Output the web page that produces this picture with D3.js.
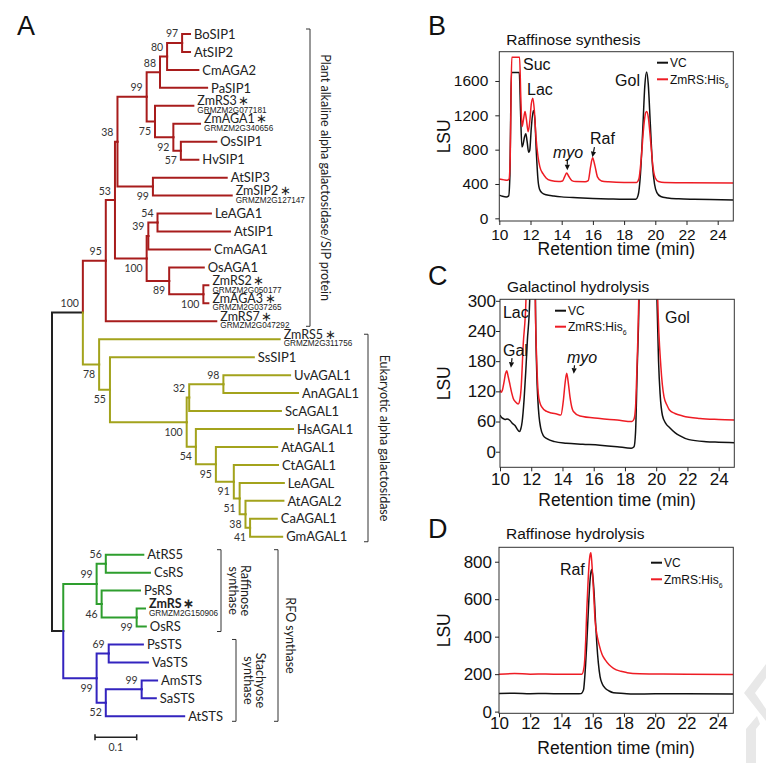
<!DOCTYPE html>
<html>
<head>
<meta charset="utf-8">
<script src="https://cdn.jsdelivr.net/npm/d3@7"></script>
<style>
body { margin: 0; background: #fff; }
svg { display: block; }
</style>
</head>
<body>
<script>
// ---- A: neighbour-joining tree, branch lengths (subst./site) and bootstrap values
const redClade = "(((((((BoSIP1:0.019,AtSIP2:0.019)97:0.036,CmAGA2:0.075)80:0.017,PaSIP1:0.113)88:0.032,(ZmRS3:0.092,(ZmAGA1:0.064,(OsSIP1:0.085,HvSIP1:0.042)57:0.018)92:0.044)75:0.020)99:0.070,(AtSIP3:0.177,ZmSIP2:0.189)99:0.085)38:0.006,(((LeAGA1:0.128,AtSIP1:0.174)54:0.022,CmAGA1:0.148)39:0.004,(OsAGA1:0.083,(ZmRS2:0.012,ZmAGA3:0.012)100:0.082)89:0.054)100:0.076)53:0.022,ZmRS7:0.265)95:0.055";
const oliveClade = "(ZmRS5:0.433,(SsSIP1:0.345,(((UvAGAL1:0.160,AnAGAL1:0.179)98:0.082,ScAGAL1:0.220)32:0.006,(HsAGAL1:0.233,(AtAGAL1:0.147,(CtAGAL1:0.106,(LeAGAL:0.106,(AtAGAL2:0.091,(CaAGAL1:0.064,GmAGAL1:0.077)41:0.011)38:0.014)51:0.014)91:0.043)95:0.048)54:0.022)100:0.184)55:0.026)78:0.039";
const greenClade = "((AtRS5:0.090,CsRS:0.106)56:0.022,(PsRS:0.092,(ZmRS:0.020,OsRS:0.022)99:0.084)46:0.012)99:0.080";
const blueClade = "((PsSTS:0.082,VaSTS:0.094)69:0.029,((AmSTS:0.037,SaSTS:0.034)99:0.086,AtSTS:0.188)52:0.022)99:0.080";
const cladeColors = ["#a81c1c", "#a3a31c", "#2e9e2e", "#3324bf"];

const geneIds = {
    ZmRS3: "GRMZM2G077181", ZmAGA1: "GRMZM2G340656", ZmSIP2: "GRMZM2G127147",
    ZmRS2: "GRMZM2G050177", ZmAGA3: "GRMZM2G037265", ZmRS7: "GRMZM2G047292",
    ZmRS5: "GRMZM2G311756", ZmRS: "GRMZM2G150906"
};

const groups = [
    {lines: ["Plant alkaline alpha galactosidase/SIP protein"], from: "BoSIP1", to: "ZmRS7"},
    {lines: ["Eukaryotic alpha galactosidase"], from: "ZmRS5", to: "GmAGAL1"},
    {lines: ["Raffinose", "synthase"], from: "AtRS5", to: "OsRS"},
    {lines: ["Stachyose", "synthase"], from: "PsSTS", to: "AtSTS"},
    {lines: ["RFO synthase"], from: "AtRS5", to: "AtSTS"}
];

// ---- B-D: chromatograms [retention time (min), LSU]
const bVC = [[10.0,270],[10.2,258],[10.45,250],[10.6,262],[10.68,500],[10.73,1200],[10.78,1700],[11.28,1700],[11.36,1250],[11.45,830],[11.52,860],[11.62,950],[11.7,985],[11.78,900],[11.88,770],[11.95,790],[12.05,1050],[12.18,1255],[12.28,1150],[12.38,750],[12.48,450],[12.58,340],[12.75,295],[13.0,275],[13.5,260],[14,250],[15,240],[16,232],[17,226],[18,221],[18.75,222],[18.9,270],[19.05,520],[19.2,1050],[19.33,1550],[19.44,1705],[19.55,1560],[19.68,1100],[19.82,620],[19.95,400],[20.1,300],[20.35,255],[20.8,238],[21.5,228],[22.5,222],[23.5,218],[25,215]];
const bZm = [[10.0,458],[10.3,448],[10.5,443],[10.62,455],[10.7,700],[10.75,1400],[10.8,1876],[11.3,1876],[11.38,1400],[11.46,1070],[11.55,1150],[11.65,1245],[11.74,1150],[11.85,1010],[11.95,1120],[12.05,1330],[12.15,1400],[12.25,1250],[12.35,950],[12.48,720],[12.6,600],[12.8,520],[13.0,470],[13.3,440],[13.8,428],[14.05,435],[14.2,490],[14.32,528],[14.45,490],[14.65,440],[14.9,428],[15.5,427],[15.7,440],[15.85,600],[15.98,706],[16.12,620],[16.3,480],[16.55,435],[17,425],[18,418],[18.8,418],[18.95,460],[19.1,700],[19.25,1050],[19.38,1230],[19.45,1245],[19.55,1180],[19.7,900],[19.85,600],[20.0,470],[20.2,430],[20.6,418],[22,415],[25,412]];
const cVC = [[10.0,73],[10.1,68],[10.2,66],[10.32,64],[10.45,65],[10.64,62],[10.8,56],[10.96,52],[11.1,45],[11.24,40],[11.33,45],[11.42,60],[11.54,103],[11.65,160],[11.75,220],[11.9,300],[12.05,800],[12.12,1250],[12.18,800],[12.27,300],[12.35,160],[12.42,105],[12.5,70],[12.6,48],[12.77,32],[13.0,26],[13.5,20],[14.25,17],[15.3,15],[16.4,13],[17.5,10],[18.4,7],[18.58,10],[18.68,40],[18.78,160],[18.9,300],[19.1,900],[19.45,1700],[19.8,900],[20.05,300],[20.15,180],[20.25,115],[20.4,72],[20.6,57],[20.85,48],[21.2,38],[21.5,32],[22.1,24],[23.2,20],[24.0,19],[25,18]];
const cZm = [[10.0,123],[10.07,118],[10.15,122],[10.26,139],[10.35,155],[10.43,161],[10.52,150],[10.64,133],[10.75,117],[10.85,106],[11.0,99],[11.17,95],[11.27,103],[11.35,125],[11.49,215],[11.66,300],[11.85,1000],[12.0,1400],[12.15,1000],[12.26,300],[12.35,182],[12.45,116],[12.55,98],[12.67,89],[12.99,80],[13.3,77],[13.63,75],[13.9,73],[14.05,100],[14.18,140],[14.27,156],[14.36,140],[14.48,109],[14.6,88],[14.7,80],[15.12,71],[16.4,66],[17.5,63],[18.45,60],[18.58,65],[18.68,90],[18.75,149],[18.88,300],[19.1,900],[19.45,1245],[19.8,900],[20.1,300],[20.3,169],[20.5,109],[20.7,92],[20.85,83],[21.2,76],[21.7,71],[22.8,66],[24,64],[25,63]];
const dVC = [[10,97],[11,98],[12,96],[13,97],[14,95],[15,95],[15.25,96],[15.41,116],[15.52,220],[15.62,365],[15.72,540],[15.8,667],[15.88,740],[15.94,759],[16.01,720],[16.09,631],[16.18,480],[16.26,365],[16.36,260],[16.47,187],[16.6,150],[16.8,125],[17.05,110],[17.33,101],[18,97],[18.6,94],[20,95],[22,95],[25,94]];
const dZm = [[10,200],[11,203],[12,200],[13,201],[14,199],[15,199],[15.3,199],[15.45,240],[15.55,380],[15.62,542],[15.7,690],[15.77,791],[15.84,840],[15.88,848],[15.93,810],[16.0,720],[16.08,600],[16.15,489],[16.25,420],[16.4,360],[16.6,305],[16.8,276],[17.05,250],[17.33,231],[17.8,215],[18.2,208],[19,202],[19.7,201],[22,200],[25,198]];

// peak names and arrows, in data units
const bNotes = [{text: "Suc", t: 11.52, v: 1798}, {text: "Lac", t: 11.78, v: 1507}, {text: "myo", t: 13.44, v: 773, it: true}, {text: "Raf", t: 15.81, v: 936}, {text: "Gol", t: 17.42, v: 1612}];
const bArrows = [[14.36, 690, 14.36, 560], [16.1, 830, 15.97, 712]];
const cNotes = [{text: "Lac", t: 10.19, v: 278}, {text: "Gal", t: 10.19, v: 201}, {text: "myo", t: 14.29, v: 188, it: true}, {text: "Gol", t: 20.56, v: 268}];
const cArrows = [[10.77, 186, 10.7, 167], [14.77, 172, 14.72, 155]];
const dNotes = [{text: "Raf", t: 13.9, v: 759}];
const dArrows = [];

const seriesNames = ["VC", "ZmRS:His"];
const seriesColors = ["#111111", "#ee1c24"];

var svg = d3.select("body").append("svg")
    .attr("width", 766)
    .attr("height", 772);
svg.append("rect").attr("width", 766).attr("height", 772).attr("fill", "#fff");

var sans = "'Liberation Sans', Arial, sans-serif";
var treeFont = "Lato, 'Liberation Sans', sans-serif";

// faint watermark fragments, bottom right
svg.append("path")
    .attr("d", "M766,664L744,693L766,721L766,709L755,693L766,678Z M757,716L746,729L746,763L756,763L756,729L760,724Z")
    .attr("fill", "#e8e8e8");

// panel letters
[["A", 17, 35], ["B", 428, 35], ["C", 428, 285], ["D", 428, 538]].forEach(function(p) {
    svg.append("text").attr("x", p[1]).attr("y", p[2]).text(p[0])
        .style("font-family", sans).style("font-size", "27px").attr("fill", "#111");
});

// ---------------- tree ----------------
function parseNewick(s) {
    var i = 0;
    function node() {
        var n = {children: []};
        if (s[i] === "(") {
            i++;
            n.children.push(node());
            while (s[i] === ",") { i++; n.children.push(node()); }
            i++;
        }
        var label = "";
        while (i < s.length && ",):;".indexOf(s[i]) < 0) label += s[i++];
        if (s[i] === ":") {
            i++;
            var num = "";
            while (i < s.length && ",);".indexOf(s[i]) < 0) num += s[i++];
            n.length = +num;
        }
        if (n.children.length) n.boot = label; else n.name = label;
        return n;
    }
    return node();
}

var treeStr = "((" + redClade + "," + oliveClade + ")100:0.074,(" + greenClade + "," + blueClade + "):0.027);";
var root = d3.hierarchy(parseNewick(treeStr), function(d) { return d.children.length ? d.children : null; });

var tx = d3.scaleLinear().domain([0, 0.1]).range([52, 93.7]);
var ty = d3.scaleLinear().domain([0, 38]).range([34, 716.3]);

root.each(function(d) { d.dist = d.parent ? d.parent.dist + (d.data.length || 0) : 0; });
root.leaves().forEach(function(d, i) { d.yi = i; });
root.eachAfter(function(d) {
    if (d.children) d.yi = (d.children[0].yi + d.children[d.children.length - 1].yi) / 2;
});
root.color = "#222";
root.children.forEach(function(c, k) {
    c.color = "#222";
    c.children.forEach(function(cc, j) {
        cc.each(function(n) { n.color = cladeColors[k * 2 + j]; });
    });
});

var tree = svg.append("g");
tree.selectAll(".link")
    .data(root.descendants().filter(function(d) { return d.parent; }))
    .enter().append("path")
    .attr("d", function(d) {
        return "M" + tx(d.parent.dist) + "," + ty(d.parent.yi) + "V" + ty(d.yi) + "H" + tx(d.dist);
    })
    .attr("fill", "none")
    .attr("stroke", function(d) { return d.color; })
    .attr("stroke-width", 2)
    .attr("stroke-linecap", "square");

// leaf names (maize genes get a star and their gene id underneath)
var leaves = tree.selectAll(".leaf").data(root.leaves()).enter().append("g")
    .attr("transform", function(d) { return "translate(" + (tx(d.dist) + 4) + "," + ty(d.yi) + ")"; });
leaves.append("text")
    .attr("y", function(d) { return geneIds[d.data.name] ? -5 : 0; })
    .attr("dy", "0.36em")
    .style("font-family", treeFont)
    .style("font-size", function(d) { return geneIds[d.data.name] ? "12.5px" : "13px"; })
    .style("font-weight", function(d) { return d.data.name === "ZmRS" ? "bold" : "normal"; })
    .attr("fill", "#222")
    .text(function(d) { return d.data.name + (geneIds[d.data.name] ? "\u2009\u2217" : ""); });
leaves.filter(function(d) { return geneIds[d.data.name]; }).append("text")
    .attr("y", 4.2).attr("dy", "0.36em")
    .style("font-family", sans).style("font-size", "8.2px")
    .attr("fill", "#222")
    .text(function(d) { return geneIds[d.data.name]; });

// bootstrap values
tree.selectAll(".boot")
    .data(root.descendants().filter(function(d) { return d.children && d.parent && d.data.boot; }))
    .enter().append("text")
    .attr("x", function(d) { return tx(d.dist) - 4; })
    .attr("y", function(d) { return ty(d.yi) + (d.parent.children[0] === d ? -5.5 : 13.5); })
    .attr("text-anchor", "end")
    .style("font-family", treeFont).style("font-size", "10.5px")
    .attr("fill", "#333")
    .text(function(d) { return d.data.boot; });

// group brackets
var leafY = {};
root.leaves().forEach(function(d) { leafY[d.data.name] = ty(d.yi); });
var bracketX = [310, 368, 221, 236, 278];
var bracketDx = [[15], [16], [24, 12], [24, 12], [12]];
groups.forEach(function(gp, i) {
    var x = bracketX[i], y0 = leafY[gp.from] - 5, y1 = leafY[gp.to] + 5;
    tree.append("path")
        .attr("d", "M" + (x - 4) + "," + y0 + "H" + x + "V" + y1 + "H" + (x - 4))
        .attr("fill", "none").attr("stroke", "#333").attr("stroke-width", 1);
    gp.lines.forEach(function(line, j) {
        var cx = x + bracketDx[i][j], cy = (y0 + y1) / 2;
        tree.append("text")
            .attr("transform", "translate(" + cx + "," + cy + ") rotate(90)")
            .attr("text-anchor", "middle")
            .attr("dominant-baseline", "central")
            .style("font-family", treeFont).style("font-size", "12.5px")
            .attr("fill", "#222")
            .text(line);
    });
});

// scale bar
var sbx = 95, sby = 737.3, sbw = tx(0.1) - tx(0);
tree.append("path")
    .attr("d", "M" + sbx + "," + (sby - 3) + "V" + (sby + 3) + "M" + sbx + "," + sby + "H" + (sbx + sbw) + "M" + (sbx + sbw) + "," + (sby - 3) + "V" + (sby + 3))
    .attr("stroke", "#222").attr("stroke-width", 1.5).attr("fill", "none");
tree.append("text").attr("x", sbx + sbw / 2).attr("y", 751).attr("text-anchor", "middle")
    .style("font-family", treeFont).style("font-size", "10.5px").attr("fill", "#333").text("0.1");

// ---------------- chromatograms ----------------
function arrow(g, x0, y0, x1, y1) {
    var a = Math.atan2(y1 - y0, x1 - x0), L = 5.5, W = 2.6;
    var bx = x1 - L * Math.cos(a), by = y1 - L * Math.sin(a);
    g.append("line").attr("x1", x0).attr("y1", y0).attr("x2", bx).attr("y2", by)
        .attr("stroke", "#111").attr("stroke-width", 1.2);
    g.append("path")
        .attr("d", "M" + x1 + "," + y1 + "L" + (bx - W * Math.sin(a)) + "," + (by + W * Math.cos(a)) + "L" + (bx + W * Math.sin(a)) + "," + (by - W * Math.cos(a)) + "Z")
        .attr("fill", "#111");
}

var panels = [
    {id: "B", title: "Raffinose synthesis", left: 499.3, right: 733.3, top: 51.7, bottom: 221,
     yDomain: [-31, 1941], yStep: 400, yMax: 1600, minor: 100, minorFrom: 0,
     series: [bVC, bZm], notes: bNotes, arrows: bArrows,
     legend: [657, 62.7, 79.3], font: 15.5, xPad: 3.5, yPad: 7, titleY: 45, xlabY: 255},
    {id: "C", title: "Galactinol hydrolysis", left: 500, right: 734.3, top: 299.3, bottom: 467.3,
     yDomain: [-31, 303], yStep: 60, yMax: 300, minor: 15, minorFrom: -15,
     series: [cVC, cZm], notes: cNotes, arrows: cArrows,
     legend: [555, 310.7, 326.7], font: 17, xPad: 1.5, yPad: 0, titleY: 292, xlabY: 506},
    {id: "D", title: "Raffinose hydrolysis", left: 499, right: 733.3, top: 547.3, bottom: 713.3,
     yDomain: [-9, 877], yStep: 200, yMax: 800, minor: 50, minorFrom: 0,
     series: [dVC, dZm], notes: dNotes, arrows: dArrows,
     legend: [651, 562.7, 579.3], font: 17, xPad: 0, yPad: 3, titleY: 539, xlabY: 754}
];

panels.forEach(function(p) {
    var g = svg.append("g");
    var x = d3.scaleLinear().domain([10, 25]).range([p.left, p.right]);
    var y = d3.scaleLinear().domain(p.yDomain).range([p.bottom, p.top]);

    g.append("clipPath").attr("id", "clip" + p.id)
        .append("rect").attr("x", p.left).attr("y", p.top)
        .attr("width", p.right - p.left).attr("height", p.bottom - p.top);

    var line = d3.line()
        .x(function(d) { return x(d[0]); })
        .y(function(d) { return y(d[1]); })
        .curve(d3.curveMonotoneX);

    g.append("g").attr("clip-path", "url(#clip" + p.id + ")")
        .selectAll("path").data(p.series).enter().append("path")
        .attr("d", line)
        .attr("fill", "none")
        .attr("stroke", function(d, i) { return seriesColors[i]; })
        .attr("stroke-width", 1.5)
        .attr("stroke-linejoin", "round");

    // frame
    g.append("rect").attr("x", p.left).attr("y", p.top)
        .attr("width", p.right - p.left).attr("height", p.bottom - p.top)
        .attr("fill", "none").attr("stroke", "#333").attr("stroke-width", 1);

    // axes (outward ticks, minor ticks unlabeled)
    var xg = g.append("g").attr("transform", "translate(0," + p.bottom + ")");
    xg.call(d3.axisBottom(x).tickValues(d3.range(10, 25.01, 0.5)).tickSize(2.2).tickFormat(""));
    xg.call(d3.axisBottom(x).tickValues(d3.range(10, 24.1, 2)).tickSize(4).tickPadding(p.xPad).tickFormat(d3.format("d")));
    var yg = g.append("g").attr("transform", "translate(" + p.left + ",0)");
    yg.call(d3.axisLeft(y).tickValues(d3.range(p.minorFrom, p.yDomain[1], p.minor)).tickSize(2.2).tickFormat(""));
    yg.call(d3.axisLeft(y).tickValues(d3.range(0, p.yMax + 1, p.yStep)).tickSize(4).tickPadding(p.yPad).tickFormat(d3.format("d")));
    g.selectAll(".domain").remove();
    g.selectAll(".tick line").attr("stroke", "#222");
    g.selectAll(".tick text").style("font-family", sans).style("font-size", p.font + "px").attr("fill", "#111");

    g.append("text").attr("x", p.left + 7).attr("y", p.titleY).text(p.title)
        .style("font-family", sans).style("font-size", "15.5px").attr("fill", "#111");
    g.append("text").attr("x", (p.left + p.right) / 2).attr("y", p.xlabY).attr("text-anchor", "middle")
        .text("Retention time (min)").style("font-family", sans).style("font-size", "17.5px").attr("fill", "#111");
    g.append("text")
        .attr("transform", "translate(" + 450 + "," + ((p.top + p.bottom) / 2) + ") rotate(-90)")
        .attr("text-anchor", "middle")
        .text("LSU").style("font-family", sans).style("font-size", "17.5px").attr("fill", "#111");

    // peak names
    p.notes.forEach(function(n) {
        g.append("text").attr("x", x(n.t)).attr("y", y(n.v)).attr("dy", "0.36em")
            .text(n.text)
            .style("font-family", sans).style("font-size", "16px")
            .style("font-style", n.it ? "italic" : "normal")
            .attr("fill", "#111");
    });
    p.arrows.forEach(function(a) { arrow(g, x(a[0]), y(a[1]), x(a[2]), y(a[3])); });

    // legend
    seriesNames.forEach(function(name, i) {
        var ly = p.legend[1 + i];
        g.append("line").attr("x1", p.legend[0]).attr("x2", p.legend[0] + 11)
            .attr("y1", ly).attr("y2", ly)
            .attr("stroke", seriesColors[i]).attr("stroke-width", 2);
        var t = g.append("text").attr("x", p.legend[0] + 13).attr("y", ly).attr("dy", "0.36em")
            .style("font-family", sans).style("font-size", "12px").attr("fill", "#111")
            .text(name);
        if (i === 1) t.append("tspan").attr("dy", "4").style("font-size", "7px").text("6");
    });
});
</script>
</body>
</html>
